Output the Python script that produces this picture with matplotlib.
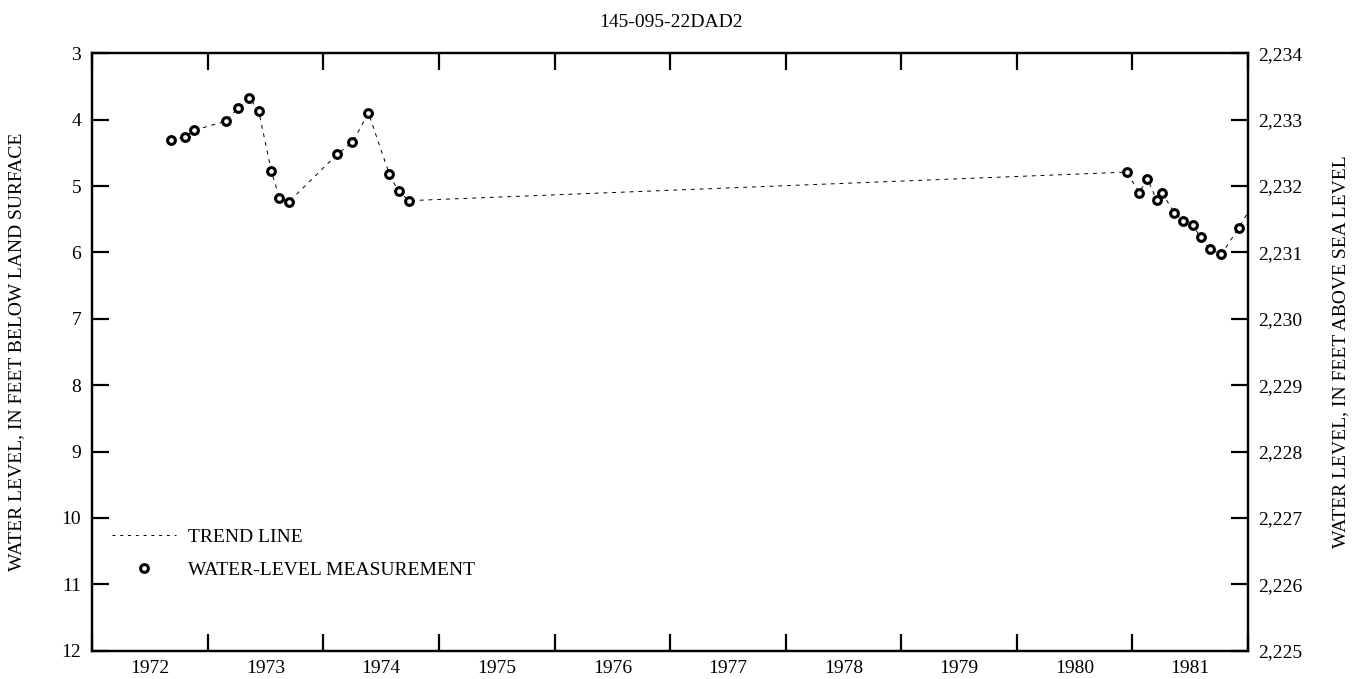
"""
Hydrograph for well 145-095-22DAD2: water level below land surface,
with the equivalent altitude on the right-hand axis.
"""

import matplotlib
matplotlib.use("Agg")
import matplotlib.pyplot as plt
from matplotlib.lines import Line2D
from matplotlib.ticker import FuncFormatter, MultipleLocator, FixedLocator

plt.rcParams["font.family"] = ["Liberation Serif", "DejaVu Serif"]

# ── Data (decimal year, feet below land surface) ─────────────────────────────
LAND_SURFACE = 2237.0

meas_year = [1972.68, 1972.80, 1972.88, 1973.16, 1973.26, 1973.36, 1973.44,
             1973.55, 1973.62, 1973.70, 1974.12, 1974.25, 1974.39, 1974.57,
             1974.65, 1974.74,
             1980.95, 1981.06, 1981.13, 1981.21, 1981.26, 1981.36, 1981.44,
             1981.52, 1981.59, 1981.67, 1981.77, 1981.92]
meas_depth = [4.31, 4.26, 4.16, 4.02, 3.82, 3.67, 3.87,
              4.78, 5.18, 5.24, 4.52, 4.34, 3.90, 4.82,
              5.08, 5.22,
              4.79, 5.10, 4.89, 5.21, 5.11, 5.40, 5.52,
              5.59, 5.77, 5.95, 6.03, 5.63]

# trend line runs through every measurement and on past the plot edge
trend_year = meas_year + [1982.06]
trend_depth = meas_depth + [5.22]

years = list(range(1972, 1982))
title = "145-095-22DAD2"

FS = 14

fig = plt.figure(figsize=(13.69, 6.79), dpi=100)
ax = fig.add_axes([0.0674, 0.0417, 0.9116 - 0.0674, 0.9215 - 0.0417])

ax.plot(trend_year, trend_depth, color="black", lw=0.7,
        linestyle=(0, (4, 5)), zorder=2)
ax.plot(meas_year, meas_depth, linestyle="none", marker="o", ms=5.6,
        mfc="white", mec="black", mew=2.2, zorder=3)

ax.set_xlim(1972, 1982)
ax.set_ylim(12, 3)

# year boundaries as major ticks, year names centred between them
ax.xaxis.set_major_locator(FixedLocator(range(1972, 1983)))
ax.xaxis.set_minor_locator(FixedLocator([y + 0.5 for y in years]))
ax.set_xticklabels([])
ax.set_xticklabels([str(y) for y in years], minor=True)
ax.tick_params(axis="x", which="major", direction="in", length=12, width=1.6,
               top=True, bottom=True)
ax.tick_params(axis="x", which="minor", length=0, pad=7, labelsize=FS)

ax.yaxis.set_major_locator(MultipleLocator(1))
ax.tick_params(axis="y", which="major", direction="in", length=12, width=1.6,
               pad=8, labelsize=FS)

for sp in ax.spines.values():
    sp.set_linewidth(1.6)

ax.set_ylabel("WATER LEVEL, IN FEET BELOW LAND SURFACE", fontsize=FS,
              labelpad=26)

ax2 = ax.twinx()
ax2.set_ylim(LAND_SURFACE - 12, LAND_SURFACE - 3)
ax2.yaxis.set_major_locator(MultipleLocator(1))
ax2.yaxis.set_major_formatter(FuncFormatter(lambda v, p: f"{v:,.0f}"))
ax2.tick_params(axis="y", direction="in", length=12, width=1.6, pad=7,
                labelsize=FS)
ax2.set_ylabel("WATER LEVEL, IN FEET ABOVE SEA LEVEL", fontsize=FS,
               labelpad=22)
for sp in ax2.spines.values():
    sp.set_linewidth(1.6)

fig.text(0.49, 0.967, title, ha="center", va="center", fontsize=FS)

handles = [
    Line2D([], [], color="black", lw=0.7, linestyle=(0, (3, 5))),
    Line2D([], [], linestyle="none", marker="o", ms=5.6, mfc="white",
           mec="black", mew=2.2),
]
ax.legend(handles, ["TREND LINE", "WATER-LEVEL MEASUREMENT"],
          loc="lower left", bbox_to_anchor=(0.0, 0.088), frameon=False,
          fontsize=FS, handlelength=3.3, handletextpad=0.6, labelspacing=0.78,
          borderaxespad=0.6)

fig.savefig("out.png", dpi=100)
